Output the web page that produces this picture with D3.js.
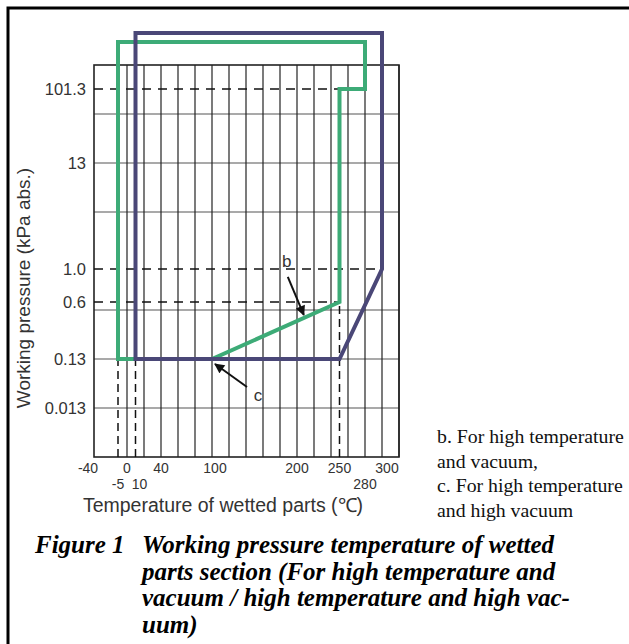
<!DOCTYPE html>
<html><head><meta charset="utf-8">
<script src="https://cdn.jsdelivr.net/npm/d3@7"></script>
<style>html,body{margin:0;padding:0;background:#fff;} svg{display:block;}</style>
</head><body>
<script>
// ---------- data ----------
const tempTicksMain = [-40, 0, 40, 100, 200, 250, 300];
const tempTicksSub = [-5, 10, 280];
const gridTemps = d3.range(0, 321, 20);
const pressureTicks = [0.013, 0.13, 0.6, 1.0, 13, 101.3];
const pressureLabels = ["0.013", "0.13", "0.6", "1.0", "13", "101.3"];
// b: high temperature and vacuum (green); Infinity = unbounded upward
const seriesBTemp = [-5, 100, 250, 250, 280, 280, -5];
const seriesBPressure = [0.13, 0.13, 0.6, 101.3, 101.3, Infinity, Infinity];
// c: high temperature and high vacuum (purple)
const seriesCTemp = [10, 250, 300, 300, 10];
const seriesCPressure = [0.13, 0.13, 1.0, Infinity, Infinity];
// reference (dashed) lines
const refPressures = [101.3, 1.0, 0.6];
const refPressureEndTemp = [250, 300, 250];
const refTemps = [-5, 10, 250];
const refTempEndPressure = [0.13, 0.13, 0.6];
const xTitle = "Temperature of wetted parts (\u2103)";
const yTitle = "Working pressure (kPa abs.)";
const legendLines = ["b. For high temperature", "and vacuum,", "c. For high temperature", "and high vacuum"];
const captionNum = "Figure 1";
const captionLines = ["Working pressure temperature of wetted",
  "parts section (For high temperature and",
  "vacuum / high temperature and high vac-",
  "uum)"];

// ---------- layout ----------
const W = 629, H = 644;
const plot = {left: 94, right: 399, top: 65, bottom: 457};
const green = "#3dab77", purple = "#4a4777", ink = "#333";
const tickNudge = {"-40": -6, "10": 4, "100": 3, "300": 5};

const svg = d3.select("body").append("svg").attr("width", W).attr("height", H);
svg.append("rect").attr("width", W).attr("height", H).attr("fill", "#fff");

// frame
svg.append("path").attr("d", `M8,${H} L8,8 L${W + 5},8`).attr("fill", "none")
  .attr("stroke", "#000").attr("stroke-width", 3);

// schematic axes (piecewise)
const x = d3.scaleLinear().domain([-40, -5, 0, 320]).range([plot.left, 118, 127, plot.right]);
const y = d3.scaleLog().domain(pressureTicks).range([408, 359, 302, 269, 163, 89]);
const overshoot = {b: 23, c: 32};
const yPos = (p, s) => isFinite(p) ? y(p) : plot.top - overshoot[s];

// horizontal grid: 8 equal rows
const rowScale = d3.scaleLinear().domain([0, 8]).range([plot.bottom, plot.top]);
svg.append("g").selectAll("line").data(d3.range(1, 8).filter(i => i !== 4)).join("line")
  .attr("x1", plot.left).attr("x2", plot.right)
  .attr("y1", d => rowScale(d)).attr("y2", d => rowScale(d))
  .attr("stroke", "#555").attr("stroke-width", 1.2);
// vertical grid
svg.append("g").selectAll("line").data(gridTemps).join("line")
  .attr("x1", d => x(d)).attr("x2", d => x(d))
  .attr("y1", plot.top).attr("y2", plot.bottom)
  .attr("stroke", "#222").attr("stroke-width", 1.2);
// plot border
svg.append("rect").attr("x", plot.left).attr("y", plot.top)
  .attr("width", plot.right - plot.left).attr("height", plot.bottom - plot.top)
  .attr("fill", "none").attr("stroke", "#222").attr("stroke-width", 1.6);

// dashed reference lines
const dashG = svg.append("g").attr("stroke", "#111").attr("stroke-width", 1.5)
  .attr("stroke-dasharray", "9,7").attr("fill", "none");
refPressures.forEach((p, i) => {
  dashG.append("line").attr("x1", x(-40)).attr("x2", x(refPressureEndTemp[i]))
    .attr("y1", y(p)).attr("y2", y(p));
});
refTemps.forEach((t, i) => {
  dashG.append("line").attr("x1", x(t)).attr("x2", x(t))
    .attr("y1", plot.bottom).attr("y2", y(refTempEndPressure[i]))
    .attr("stroke-dasharray", "8,5");
});

// regions
const lineGen = s => d3.line().x(d => x(d[0])).y(d => yPos(d[1], s));
const ptsB = seriesBTemp.map((t, i) => [t, seriesBPressure[i]]);
const ptsC = seriesCTemp.map((t, i) => [t, seriesCPressure[i]]);
svg.append("path").attr("d", lineGen("b")(ptsB) + "Z").attr("fill", "none")
  .attr("stroke", green).attr("stroke-width", 4).attr("stroke-linejoin", "miter");
svg.append("path").attr("d", lineGen("c")(ptsC) + "Z").attr("fill", "none")
  .attr("stroke", purple).attr("stroke-width", 4).attr("stroke-linejoin", "miter");

// annotations
const defs = svg.append("defs");
defs.append("marker").attr("id", "ah").attr("viewBox", "0 0 10 10")
  .attr("refX", 9).attr("refY", 5).attr("markerWidth", 5.5).attr("markerHeight", 5)
  .attr("markerUnits", "strokeWidth").attr("orient", "auto")
  .append("path").attr("d", "M0,0 L10,5 L0,10 Z").attr("fill", "#111");
// b: arrow to the green slope
const slopeA = [x(ptsB[1][0]), y(ptsB[1][1])], slopeB = [x(ptsB[2][0]), y(ptsB[2][1])];
const tipB = d3.interpolateArray(slopeA, slopeB)(0.72);
tipB[1] -= 3;
svg.append("line").attr("x1", tipB[0] - 16).attr("y1", tipB[1] - 38)
  .attr("x2", tipB[0]).attr("y2", tipB[1]).attr("stroke", "#111").attr("stroke-width", 2)
  .attr("marker-end", "url(#ah)");
svg.append("text").attr("x", tipB[0] - 17).attr("y", tipB[1] - 48)
  .attr("text-anchor", "middle").attr("font-family", "Liberation Sans, Arial, sans-serif")
  .attr("font-size", 17).attr("fill", ink).text("b");
// c: arrow to the start of the slope
const tipC = [slopeA[0] + 3, slopeA[1] + 5];
svg.append("line").attr("x1", tipC[0] + 32).attr("y1", tipC[1] + 23)
  .attr("x2", tipC[0]).attr("y2", tipC[1]).attr("stroke", "#111").attr("stroke-width", 2)
  .attr("marker-end", "url(#ah)");
svg.append("text").attr("x", tipC[0] + 43).attr("y", tipC[1] + 37)
  .attr("text-anchor", "middle").attr("font-family", "Liberation Sans, Arial, sans-serif")
  .attr("font-size", 17).attr("fill", ink).text("c");

// y tick labels
svg.append("g").selectAll("text").data(pressureTicks).join("text")
  .attr("x", 86).attr("y", d => y(d)).attr("dy", "0.36em")
  .attr("text-anchor", "end").attr("font-family", "Liberation Sans, Arial, sans-serif")
  .attr("font-size", 16.5).attr("fill", ink)
  .text((d, i) => pressureLabels[i]);
// x tick labels
const tickFont = "Liberation Sans, Arial, sans-serif";
svg.append("g").selectAll("text").data(tempTicksMain).join("text")
  .attr("x", d => x(d) + (tickNudge[d] || 0)).attr("y", 473).attr("text-anchor", "middle")
  .attr("font-family", tickFont).attr("font-size", 14).attr("fill", ink).text(d => d);
svg.append("g").selectAll("text").data(tempTicksSub).join("text")
  .attr("x", d => x(d) + (tickNudge[d] || 0)).attr("y", 489).attr("text-anchor", "middle")
  .attr("font-family", tickFont).attr("font-size", 14).attr("fill", ink).text(d => d);

// axis titles
svg.append("text").attr("x", 223).attr("y", 512).attr("text-anchor", "middle")
  .attr("font-family", tickFont).attr("font-size", 19.5).attr("fill", ink).text(xTitle);
svg.append("text").attr("transform", "translate(30,288) rotate(-90)")
  .attr("text-anchor", "middle").attr("font-family", tickFont)
  .attr("font-size", 19).attr("fill", ink).text(yTitle);

// legend
svg.append("g").selectAll("text").data(legendLines).join("text")
  .attr("x", 437).attr("y", (d, i) => 443 + i * 24.5)
  .attr("font-family", "Liberation Serif, Times New Roman, serif")
  .attr("font-size", 19.8).attr("fill", "#111").text(d => d);

// caption
const capFont = "Liberation Serif, Times New Roman, serif";
svg.append("text").attr("x", 35).attr("y", 553).attr("font-family", capFont)
  .attr("font-size", 25).attr("font-weight", "bold").attr("font-style", "italic")
  .attr("fill", "#000").text(captionNum);
svg.append("g").selectAll("text").data(captionLines).join("text")
  .attr("x", 142).attr("y", (d, i) => 553 + i * 26.5).attr("font-family", capFont)
  .attr("font-size", 25).attr("font-weight", "bold").attr("font-style", "italic")
  .attr("fill", "#000").text(d => d);
</script>
</body></html>
